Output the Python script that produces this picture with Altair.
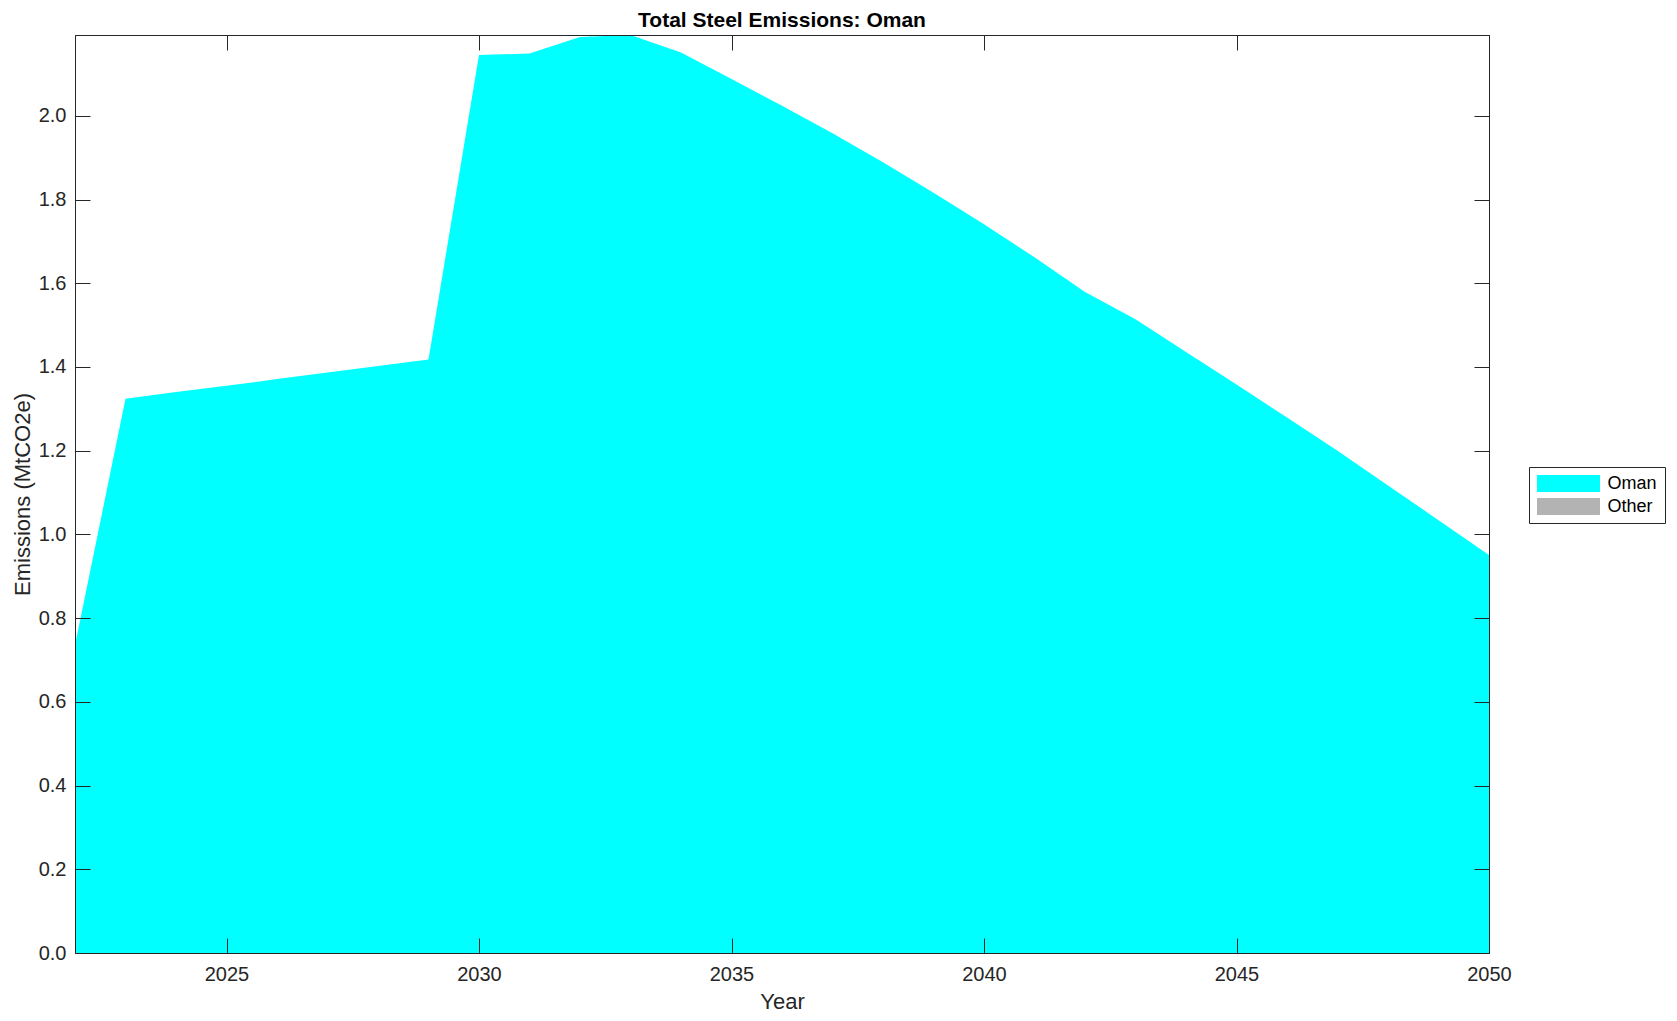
import altair as alt
import pandas as pd

# ---- data ----
years = [2022, 2023, 2024, 2025, 2026, 2027, 2028, 2029, 2030, 2031,
         2032, 2033, 2034, 2035, 2036, 2037, 2038, 2039, 2040, 2041,
         2042, 2043, 2044, 2045, 2046, 2047, 2048, 2049, 2050]
oman = [0.735, 1.324, 1.340, 1.355, 1.371, 1.387, 1.402, 1.418, 2.145, 2.149,
        2.188, 2.193, 2.151, 2.088, 2.024, 1.958, 1.889, 1.816, 1.741, 1.662,
        1.579, 1.514, 1.436, 1.358, 1.279, 1.200, 1.117, 1.034, 0.951]
other = [0.0, 0.0, 0.0, 0.0, 0.0, 0.0, 0.0, 0.0, 0.0, 0.0,
         0.0, 0.0, 0.0, 0.0, 0.0, 0.0, 0.0, 0.0, 0.0, 0.0,
         0.0, 0.0, 0.0, 0.0, 0.0, 0.0, 0.0, 0.0, 0.0]
series_names = ["Oman", "Other"]
series_colors = ["#00ffff", "#b3b3b3"]
x_ticks = [2025, 2030, 2035, 2040, 2045, 2050]
y_ticks = [0.0, 0.2, 0.4, 0.6, 0.8, 1.0, 1.2, 1.4, 1.6, 1.8, 2.0]
x_domain = [2022, 2050]
y_domain = [0.0, 2.193]

rows = []
for i, name in enumerate(series_names):
    vals = oman if name == "Oman" else other
    for y, v in zip(years, vals):
        rows.append({"year": y, "value": v, "series": name, "order": i})
df = pd.DataFrame(rows)

W, H = 1414, 918
FONT = "Liberation Sans"
INK = "#262626"
TICK = 15

xs = alt.Scale(domain=x_domain, nice=False, zero=False)
ys = alt.Scale(domain=y_domain, nice=False, zero=False)

base = alt.Chart(df)

area = base.mark_area(opacity=1, interpolate="linear").encode(
    x=alt.X("year:Q", scale=xs, axis=alt.Axis(
        values=x_ticks, format="d", title="Year", tickSize=0, ticks=False,
        domain=True, domainColor=INK, domainWidth=1, zindex=2, grid=False,
        labelPadding=11, labelFontSize=20,
        labelColor=INK, labelFont=FONT, labelFlush=False,
        titleFontSize=22, titleFontWeight="normal", titleColor=INK, titleFont=FONT,
        titleY=55, titleBaseline="alphabetic", titleAlign="center", titleX=W / 2)),
    y=alt.Y("value:Q", stack="zero", scale=ys, axis=alt.Axis(
        values=y_ticks, format=".1f", title="Emissions (MtCO2e)", tickSize=0, ticks=False,
        domain=True, domainColor=INK, domainWidth=1, zindex=2, grid=False,
        labelPadding=9, labelFontSize=20,
        labelColor=INK, labelFont=FONT, labelFlush=False,
        titleFontSize=22, titleFontWeight="normal", titleColor=INK, titleFont=FONT,
        titleAngle=270, titleX=-45.5, titleY=H / 2, titleAlign="center",
        titleBaseline="alphabetic")),
    color=alt.Color("series:N", scale=alt.Scale(domain=series_names, range=series_colors),
                    legend=alt.Legend(
                        title=None, orient="none", legendX=1454, legendY=432,
                        symbolType="M-1,-1H6.41V1H-1Z", symbolSize=289,
                        symbolStrokeWidth=0, symbolOpacity=1,
                        labelFontSize=18, labelFont=FONT, labelColor="black",
                        labelOffset=53, rowPadding=5, padding=7.5,
                        strokeColor=INK, fillColor="white")),
    order=alt.Order("order:Q"),
)


def tick_axis(values, orient):
    return alt.Axis(values=values, orient=orient, offset=-TICK, tickSize=TICK,
                    tickColor=INK, tickWidth=1, labels=False, domain=False,
                    grid=False, title=None, zindex=2)


def frame_axis(values, orient):
    return alt.Axis(values=values, orient=orient, offset=0, ticks=False, labels=False,
                    domain=True, domainColor=INK, domainWidth=1, grid=False,
                    title=None, zindex=2)


ticks_bl = base.mark_point(opacity=0).encode(
    x=alt.X("year:Q", scale=xs, axis=tick_axis(x_ticks, "bottom")),
    y=alt.Y("value:Q", scale=ys, axis=tick_axis(y_ticks, "left")),
)
ticks_tr = base.mark_point(opacity=0).encode(
    x=alt.X("year:Q", scale=xs, axis=tick_axis(x_ticks, "top")),
    y=alt.Y("value:Q", scale=ys, axis=tick_axis(y_ticks, "right")),
)
frame_tr = base.mark_point(opacity=0).encode(
    x=alt.X("year:Q", scale=xs, axis=frame_axis(x_ticks, "top")),
    y=alt.Y("value:Q", scale=ys, axis=frame_axis(y_ticks, "right")),
)

chart = alt.layer(area, ticks_bl, ticks_tr, frame_tr).resolve_axis(
    x="independent", y="independent"
).properties(
    width=W, height=H,
    title=alt.TitleParams("Total Steel Emissions: Oman", fontSize=21, fontWeight="bold",
                          font=FONT, color="black", offset=1, anchor="middle", frame="group"),
    autosize=alt.AutoSizeParams(type="none"),
    padding={"left": 67, "top": 27, "right": 180, "bottom": 60},
).configure(
    font=FONT,
    view=alt.ViewConfig(stroke=INK, strokeWidth=1),
)

chart.save("out.html", embed_options={"renderer": "svg", "actions": False})
